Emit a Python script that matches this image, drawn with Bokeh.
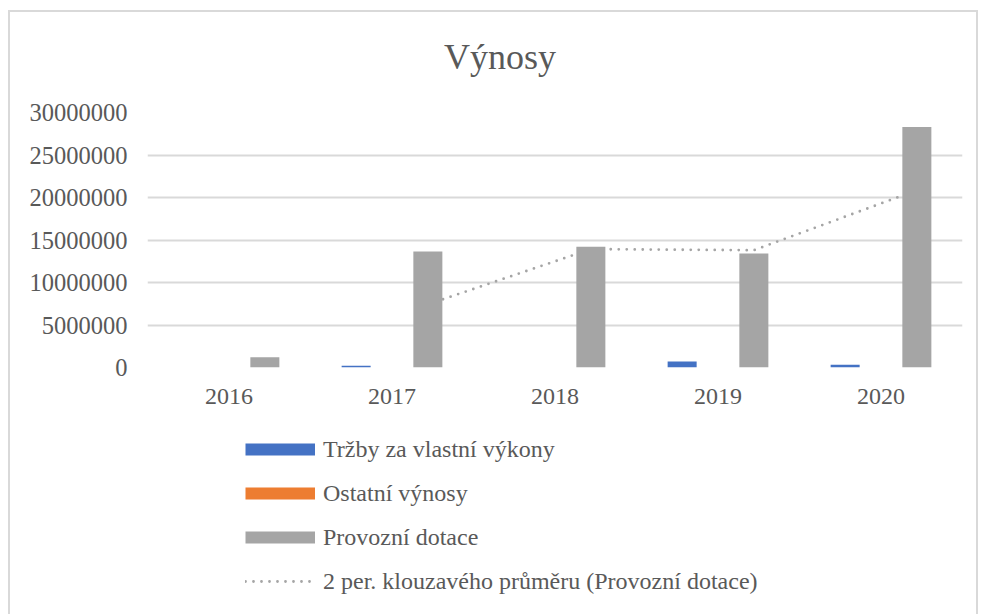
from bokeh.plotting import figure
from bokeh.layouts import column
from bokeh.models import (ColumnDataSource, FactorRange, Range1d, FixedTicker, BasicTickFormatter,
                          Legend, LegendItem, Div)
from bokeh.transform import dodge
from bokeh.embed import file_html
from bokeh.resources import INLINE

title_text = "Výnosy"
years = ["2016", "2017", "2018", "2019", "2020"]
trzby = [0, 200000, 0, 700000, 330000]
ostatni = [0, 0, 0, 0, 0]
dotace = [1200000, 13650000, 14200000, 13400000, 28300000]
y_ticks = [0, 5000000, 10000000, 15000000, 20000000, 25000000, 30000000]
legend_labels = ["Tržby za vlastní výkony", "Ostatní výnosy", "Provozní dotace",
                 "2 per. klouzavého průměru (Provozní dotace)"]

ma_years = years[1:]
ma_vals = [(dotace[i - 1] + dotace[i]) / 2 for i in range(1, len(dotace))]

FONT = "Liberation Serif"
TXT = "#595959"
GRID = "#D9D9D9"
BLUE = "#4472C4"
ORANGE = "#ED7D31"
GRAY = "#A5A5A5"
DOTS = "0 8"

src = ColumnDataSource(data=dict(year=years, trzby=trzby, ostatni=ostatni, dotace=dotace))
ma_src = ColumnDataSource(data=dict(year=ma_years, val=ma_vals))

# title
title = Div(text=title_text, width=966, height=80, margin=0,
            styles={"font-family": FONT, "font-size": "36px", "color": TXT,
                    "padding-left": "434px", "padding-top": "24px", "line-height": "normal"})

# main chart
p = figure(width=966, height=328, x_range=FactorRange(*years), y_range=Range1d(0, 30000000),
           output_backend="svg", toolbar_location=None,
           min_border_left=137, min_border_right=14, min_border_top=20, min_border_bottom=53)
p.outline_line_color = None
p.background_fill_color = "white"
p.border_fill_color = "white"

# moving average trendline (drawn beneath bars)
p.line(x=dodge("year", 0.22, range=p.x_range), y="val", source=ma_src, line_color=GRAY,
       line_width=2.8, line_dash=DOTS, line_cap="round")

w = 0.178
p.vbar(x=dodge("year", -0.22, range=p.x_range), top="trzby", width=w, source=src,
       fill_color=BLUE, line_color=None)
p.vbar(x=dodge("year", 0.0, range=p.x_range), top="ostatni", width=w, source=src,
       fill_color=ORANGE, line_color=None)
p.vbar(x=dodge("year", 0.22, range=p.x_range), top="dotace", width=w, source=src,
       fill_color=GRAY, line_color=None)

p.xgrid.grid_line_color = None
p.ygrid.grid_line_color = GRID
p.ygrid.grid_line_width = 2
p.yaxis.ticker = FixedTicker(ticks=y_ticks)
p.yaxis.formatter = BasicTickFormatter(use_scientific=False)
for ax in (p.xaxis[0], p.yaxis[0]):
    ax.axis_line_color = None
    ax.major_tick_line_color = None
    ax.minor_tick_line_color = None
    ax.major_tick_out = 0
    ax.major_tick_in = 0
    ax.major_label_text_font = FONT
    ax.major_label_text_color = TXT
p.xaxis.major_label_text_font_size = "24px"
p.yaxis.major_label_text_font_size = "24.5px"
p.yaxis.major_label_standoff = 20
p.xaxis.major_label_standoff = 21

# legend figure
pl = figure(width=966, height=194, x_range=Range1d(0, 1), y_range=Range1d(0, 1),
            output_backend="svg", toolbar_location=None,
            min_border_left=0, min_border_right=0, min_border_top=0, min_border_bottom=0)
pl.axis.visible = False
pl.grid.visible = False
pl.outline_line_color = None
pl.background_fill_color = "white"
pl.border_fill_color = "white"

nan = [float("nan")]
r1 = pl.line(x=nan, y=nan, line_color=BLUE, line_width=12, line_cap="butt")
r2 = pl.line(x=nan, y=nan, line_color=ORANGE, line_width=12, line_cap="butt")
r3 = pl.line(x=nan, y=nan, line_color=GRAY, line_width=12, line_cap="butt")
r4 = pl.line(x=nan, y=nan, line_color=GRAY, line_width=2.8, line_dash=DOTS, line_cap="round")
legend = Legend(items=[LegendItem(label=lab, renderers=[r])
                       for lab, r in zip(legend_labels, [r1, r2, r3, r4])],
                location=(98, 19))
legend.border_line_color = None
legend.background_fill_alpha = 0
legend.padding = 0
legend.margin = 0
legend.spacing = 16
legend.glyph_width = 70
legend.glyph_height = 28
legend.label_height = 28
legend.label_standoff = 8
legend.label_text_font = FONT
legend.label_text_font_size = "24px"
legend.label_text_color = TXT
pl.add_layout(legend)

layout = column(title, p, pl, spacing=0)
layout.styles = {"margin-left": "8px", "margin-top": "10px",
                 "border-top": "2px solid #D9D9D9", "border-left": "2px solid #D9D9D9",
                 "border-right": "2px solid #D9D9D9"}

open("out.html", "w").write(file_html(layout, INLINE))
